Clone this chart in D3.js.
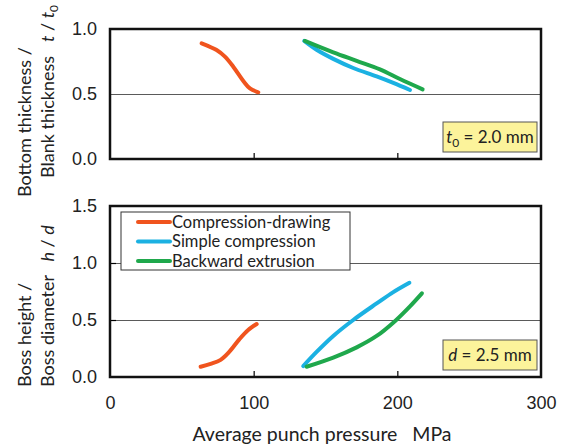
<!DOCTYPE html>
<html>
<head>
<meta charset="utf-8">
<script src="https://cdn.jsdelivr.net/npm/d3@7"></script>
<style>
  body { margin: 0; background: #fff; }
  svg { display: block; font-family: Lato, "Open Sans", sans-serif; }
  .grid line { stroke: #5a5a5a; stroke-width: 1; }
  .grid path { display: none; }
  .tick-in line { stroke: #000; stroke-width: 1.2; }
  .tick-in path { display: none; }
  .lbl path { display: none; }
  .lbl text { font-size: 18px; fill: #222; }
</style>
</head>
<body>
<svg id="chart" width="567" height="447"></svg>
<script>
// tick labels
const xTicks = [0, 100, 200, 300];
const yTicksTop = [0, 0.5, 1.0];
const yTicksBottom = [0, 0.5, 1.0, 1.5];

const seriesNames = ["Compression-drawing", "Simple compression", "Backward extrusion"];
const colors = ["#f0541e", "#1bb1e2", "#1fa84c"];

// top panel: t / t0 vs pressure
const thickDrawing = [[63.8, 0.89], [74.2, 0.838], [80, 0.787], [85.8, 0.71], [92.8, 0.6], [97.4, 0.543], [103.2, 0.513]];
const thickSimple = [[135.2, 0.908], [143.8, 0.84], [155.4, 0.77], [169.3, 0.70], [185.6, 0.635], [197.2, 0.585], [208.8, 0.531]];
const thickBackward = [[135.6, 0.908], [155.4, 0.82], [171.7, 0.755], [187.9, 0.69], [201.8, 0.615], [217.6, 0.536]];

// bottom panel: h / d vs pressure
const bossDrawing = [[63.1, 0.09], [70, 0.115], [77, 0.15], [83, 0.22], [90, 0.33], [96, 0.41], [102.1, 0.465]];
const bossSimple = [[134.5, 0.096], [143.8, 0.22], [155.4, 0.36], [169.3, 0.5], [185.6, 0.645], [197.2, 0.745], [208.4, 0.827]];
const bossBackward = [[136.8, 0.09], [155.4, 0.17], [171.7, 0.26], [185.6, 0.36], [198.3, 0.49], [208.8, 0.62], [217.1, 0.734]];

const svg = d3.select("svg#chart");

const x = d3.scaleLinear().domain([0, 300]).range([110, 541]);
const yTop = d3.scaleLinear().domain([0, 1]).range([159, 29]);
const yBot = d3.scaleLinear().domain([0, 1.5]).range([377, 206]);

function panel(y, yTicks, grid, yInner, series, note, showX) {
    const [y0, y1] = y.range();
    const g = svg.append("g");

    // GRID
    g.append("g").attr("class", "grid")
        .attr("transform", `translate(${x(0)},0)`)
        .call(d3.axisLeft(y).tickValues(grid).tickSize(-(x(300) - x(0))).tickFormat(""));

    // inner ticks
    g.append("g").attr("class", "tick-in")
        .attr("transform", `translate(0,${y0})`)
        .call(d3.axisBottom(x).tickValues([100, 200]).tickSize(-6).tickFormat(""));
    if (yInner.length) {
        g.append("g").attr("class", "tick-in")
            .attr("transform", `translate(${x(0)},0)`)
            .call(d3.axisLeft(y).tickValues(yInner).tickSize(-6).tickFormat(""));
    }

    // y labels
    g.append("g").attr("class", "lbl")
        .attr("transform", `translate(${x(0)},0)`)
        .call(d3.axisLeft(y).tickValues(yTicks).tickSize(0).tickPadding(13).tickFormat(d3.format(".1f")));

    if (showX) {
        g.append("g").attr("class", "lbl")
            .attr("transform", `translate(0,${y0})`)
            .call(d3.axisBottom(x).tickValues(xTicks).tickSize(0).tickPadding(19).tickFormat(d3.format("d")));
    }

    // LINES
    const line = d3.line()
        .x(d => x(d[0]))
        .y(d => y(d[1]))
        .curve(d3.curveCatmullRom.alpha(0.5));

    series.forEach((s, i) => {
        g.append("path")
            .datum(s)
            .attr("fill", "none")
            .attr("stroke", colors[i])
            .attr("stroke-width", 4)
            .attr("stroke-linecap", "round")
            .attr("stroke-linejoin", "round")
            .attr("d", line);
    });

    // frame
    g.append("rect")
        .attr("x", x(0)).attr("y", y1)
        .attr("width", x(300) - x(0)).attr("height", y0 - y1)
        .attr("fill", "none").attr("stroke", "#111").attr("stroke-width", 2.5);

    // note box
    const nb = g.append("g").attr("transform", `translate(443,${y0 - 37})`);
    nb.append("rect").attr("width", 94).attr("height", 30)
        .attr("fill", "#fcf39b").attr("stroke", "#555").attr("stroke-width", 1);
    const t = nb.append("text").attr("x", 47).attr("y", 21)
        .attr("text-anchor", "middle").attr("font-size", 17).attr("fill", "#222");
    note(t);
    return g;
}

panel(yTop, yTicksTop, [0.5], [], [thickDrawing, thickSimple, thickBackward], t => {
    t.append("tspan").attr("font-style", "italic").text("t");
    t.append("tspan").attr("font-size", 12).attr("dy", 4).text("0");
    t.append("tspan").attr("dy", -4).text(" = 2.0 mm");
}, false);

panel(yBot, yTicksBottom, [0.5, 1.0], [0.5, 1.0], [bossDrawing, bossSimple, bossBackward], t => {
    t.append("tspan").attr("font-style", "italic").text("d");
    t.append("tspan").text(" = 2.5 mm");
}, true);

// LEGEND
const lg = svg.append("g").attr("transform", "translate(121,212)");
lg.append("rect").attr("width", 229).attr("height", 58)
    .attr("fill", "#fff").attr("stroke", "#333").attr("stroke-width", 1);
seriesNames.forEach((n, i) => {
    const yy = 10 + i * 19.5;
    lg.append("line").attr("x1", 17).attr("x2", 49).attr("y1", yy).attr("y2", yy)
        .attr("stroke", colors[i]).attr("stroke-width", 4).attr("stroke-linecap", "round");
    lg.append("text").attr("x", 51).attr("y", yy).attr("dy", "0.36em")
        .attr("font-size", 16.5).attr("fill", "#222").text(n);
});

// AXIS TITLES
svg.append("text").attr("x", 322).attr("y", 441).attr("text-anchor", "middle")
    .attr("font-size", 19.5).attr("fill", "#222")
    .attr("xml:space", "preserve").text("Average punch pressure   MPa");

function yTitle(px, py, parts) {
    const t = svg.append("text")
        .attr("transform", `translate(${px},${py}) rotate(-90)`)
        .attr("dy", "0.35em").attr("font-size", 18).attr("fill", "#222")
        .attr("xml:space", "preserve");
    parts.forEach(p => {
        const s = t.append("tspan").text(p.s);
        if (p.i) s.attr("font-style", "italic");
        if (p.sub) s.attr("font-size", 12).attr("dy", 4);
    });
}
yTitle(25, 197, [{ s: "Bottom thickness /" }]);
yTitle(48, 178, [{ s: "Blank thickness   " }, { s: "t", i: true }, { s: " / " }, { s: "t", i: true }, { s: "0", sub: true }]);
yTitle(25, 387, [{ s: "Boss height /" }]);
yTitle(48, 387, [{ s: "Boss diameter   " }, { s: "h", i: true }, { s: " / " }, { s: "d", i: true }]);
</script>
</body>
</html>
